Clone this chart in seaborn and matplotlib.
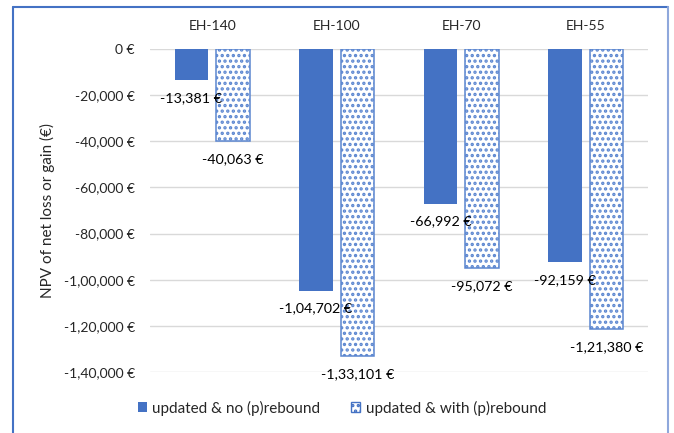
import matplotlib
matplotlib.use("Agg")
import matplotlib.pyplot as plt
from matplotlib.lines import Line2D
from matplotlib.patches import Patch
import seaborn as sns
import pandas as pd

scenarios = ["EH-140", "EH-100", "EH-70", "EH-55"]
series_names = ["updated & no (p)rebound", "updated & with (p)rebound"]
no_rebound = [-13381, -104702, -66992, -92159]
with_rebound = [-40063, -133101, -95072, -121380]
yticks = [0, -20000, -40000, -60000, -80000, -100000, -120000, -140000]

BLUE = "#4472C4"


def indian(n):
    s = str(abs(int(round(n))))
    if len(s) > 3:
        last3 = s[-3:]
        rest = s[:-3]
        groups = []
        while len(rest) > 2:
            groups.insert(0, rest[-2:])
            rest = rest[:-2]
        if rest:
            groups.insert(0, rest)
        s = ",".join(groups + [last3])
    return ("-" if n < 0 else "") + s + " €"


df = pd.DataFrame({
    "scenario": scenarios * 2,
    "npv": no_rebound + with_rebound,
    "variant": [series_names[0]] * 4 + [series_names[1]] * 4,
})

sns.set_theme(style="white")
plt.rcParams["font.family"] = ["Lato", "DejaVu Sans"]
plt.rcParams["hatch.color"] = BLUE
plt.rcParams["hatch.linewidth"] = 1.6

fig = plt.figure(figsize=(6.74, 4.33), dpi=100)
ax = fig.add_axes([150 / 674, 1 - 372 / 433, 498 / 674, 323 / 433])

sns.barplot(data=df, x="scenario", y="npv", hue="variant", order=scenarios,
            hue_order=series_names, palette=[BLUE, BLUE], width=0.667, gap=0.19,
            saturation=1, ax=ax, legend=False, err_kws={"linewidth": 0})

for p in ax.containers[1]:
    p.set_facecolor("white")
    p.set_edgecolor("#5B86D0")
    p.set_hatch("...")
    p.set_linewidth(1.1)
for p in ax.containers[0]:
    p.set_edgecolor("none")

for cont in ax.containers:
    for p in cont:
        v = p.get_height()
        end = min(p.get_y(), p.get_y() + v)
        ax.annotate(indian(v), (p.get_x() + p.get_width() / 2, end),
                    xytext=(0, -13), textcoords="offset points",
                    ha="center", va="center", fontsize=10.3, color="#000000")

ax.set_ylim(-140000, 0)
ax.set_xlim(-0.5, 3.5)
ax.set_yticks(yticks)
ax.set_yticklabels([indian(v) for v in yticks], fontsize=10)
ax.yaxis.grid(True, color="#D9D9D9", linewidth=1.0)
ax.set_axisbelow(True)
ax.tick_params(axis="y", length=0, pad=11)
ax.xaxis.tick_top()
ax.tick_params(axis="x", length=0, pad=12, labelsize=10)
ax.set_xlabel("")
ax.set_ylabel("NPV of net loss or gain (€)", fontsize=11, labelpad=6)
for s in ax.spines.values():
    s.set_visible(False)

handles = [Patch(facecolor=BLUE, edgecolor="none"),
           Patch(facecolor="white", edgecolor=BLUE, hatch="...", linewidth=1.0)]
fig.legend(handles, series_names, loc="center", bbox_to_anchor=(342 / 674, 1 - 408 / 433),
           ncol=2, frameon=False, fontsize=11, handlelength=0.6, handleheight=0.6,
           handletextpad=0.35, columnspacing=2.0)

# outer chart frame
fig.add_artist(Line2D([13 / 674, 13 / 674], [0, 1 - 7 / 433], transform=fig.transFigure,
                      color=BLUE, linewidth=1.5))
fig.add_artist(Line2D([13 / 674, 668 / 674], [1 - 7 / 433, 1 - 7 / 433], transform=fig.transFigure,
                      color=BLUE, linewidth=1.5))
fig.add_artist(Line2D([668 / 674, 668 / 674], [0, 1 - 7 / 433], transform=fig.transFigure,
                      color="#8FA8DC", linewidth=1.5))

fig.savefig("out.png", dpi=100)
